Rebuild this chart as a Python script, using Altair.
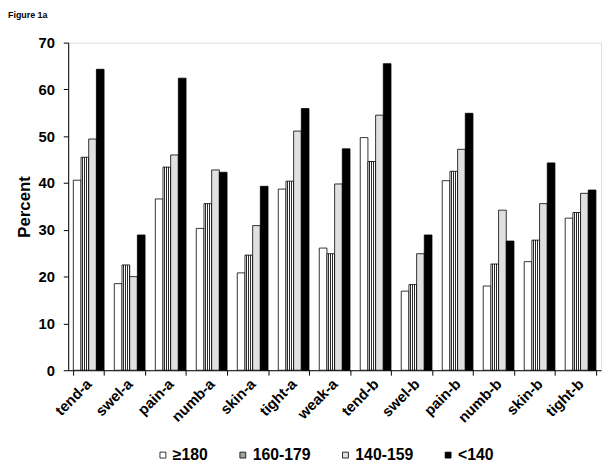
import altair as alt
import pandas as pd

categories = ["tend-a", "swel-a", "pain-a", "numb-a", "skin-a", "tight-a", "weak-a",
              "tend-b", "swel-b", "pain-b", "numb-b", "skin-b", "tight-b"]
series_names = ["≥180", "160-179", "140-159", "<140"]
ge180 = [40.6, 18.5, 36.6, 30.3, 20.8, 38.7, 26.1, 49.7, 16.9, 40.5, 18.0, 23.2, 32.5]
s160_179 = [45.5, 22.5, 43.4, 35.6, 24.6, 40.4, 24.9, 44.6, 18.3, 42.5, 22.7, 27.8, 33.7]
s140_159 = [49.4, 20.0, 46.0, 42.8, 30.9, 51.1, 39.8, 54.5, 24.9, 47.2, 34.2, 35.6, 37.8]
lt140 = [64.3, 28.9, 62.4, 42.3, 39.3, 55.9, 47.3, 65.5, 28.9, 54.9, 27.6, 44.3, 38.5]
fills = ["#ffffff", "#a0a0a0", "#e0e0e0", "#000000"]

rows = []
for name, vals in zip(series_names, [ge180, s160_179, s140_159, lt140]):
    for c, v in zip(categories, vals):
        rows.append({"category": c, "series": name, "value": v})
df = pd.DataFrame(rows)

# striped fill to suggest the hatching of the 160-179 bars
stops = []
n = 4
for i in range(n):
    a = i / n
    stops += [
        {"offset": a, "color": "#ffffff"},
        {"offset": a + 0.55 / n, "color": "#ffffff"},
        {"offset": a + 0.55 / n, "color": "#2a2a2a"},
        {"offset": a + 0.95 / n, "color": "#2a2a2a"},
        {"offset": a + 0.95 / n, "color": "#ffffff"},
    ]
hatch = {"gradient": "linear", "x1": 0, "y1": 0, "x2": 1, "y2": 0, "stops": stops}

FONT = "Liberation Sans"

fill_enc = alt.when(alt.datum.series == "160-179").then(alt.value(hatch)).otherwise(
    alt.Fill(
        "series:N",
        scale=alt.Scale(domain=series_names, range=fills),
        legend=alt.Legend(
            title=None,
            orient="none",
            direction="horizontal",
            legendX=88,
            legendY=410,
            symbolType="square",
            symbolSize=36,
            symbolStrokeColor="#000000",
            symbolStrokeWidth=0.8,
            labelFont=FONT,
            labelFontSize=16,
            labelFontWeight="bold",
            labelColor="#000000",
            labelOffset=2,
            columnPadding=27,
        ),
    )
)

chart = alt.Chart(df).mark_bar(stroke="#000000", strokeWidth=0.8).encode(
    x=alt.X(
        "category:N",
        sort=categories,
        scale=alt.Scale(paddingInner=0.25, paddingOuter=0.125),
        axis=alt.Axis(
            title=None,
            labelAngle=-45,
            labelAlign="right",
            labelBaseline="middle",
            labelFont=FONT,
            labelFontSize=15,
            labelFontWeight="bold",
            labelColor="#000000",
            labelPadding=6,
            tickBand="extent",
            tickSize=5,
            tickColor="#000000",
            domainColor="#000000",
        ),
    ),
    xOffset=alt.XOffset("series:N", sort=series_names, scale=alt.Scale(domain=series_names)),
    y=alt.Y(
        "value:Q",
        scale=alt.Scale(domain=[0, 70]),
        axis=alt.Axis(
            title="Percent",
            values=[0, 10, 20, 30, 40, 50, 60, 70],
            grid=False,
            labelFont=FONT,
            labelFontSize=15,
            labelFontWeight="bold",
            labelColor="#000000",
            labelPadding=9,
            tickSize=5,
            tickColor="#000000",
            domainColor="#000000",
            titleFont=FONT,
            titleFontSize=17,
            titleFontWeight="bold",
            titleColor="#000000",
            titlePadding=5,
        ),
    ),
    fill=fill_enc,
).properties(
    width=540,
    height=332,
    title=alt.TitleParams(
        "Figure 1a",
        anchor="start",
        frame="group",
        font=FONT,
        fontSize=9,
        fontWeight="bold",
        color="#000000",
        dx=-61,
        offset=16,
    ),
    autosize=alt.AutoSizeParams(type="none"),
    padding={"left": 61, "top": 32, "right": 5, "bottom": 96},
).configure_view(stroke=None).configure(background="#ffffff")

chart.save("out.html", embed_options={"renderer": "svg", "actions": False})
